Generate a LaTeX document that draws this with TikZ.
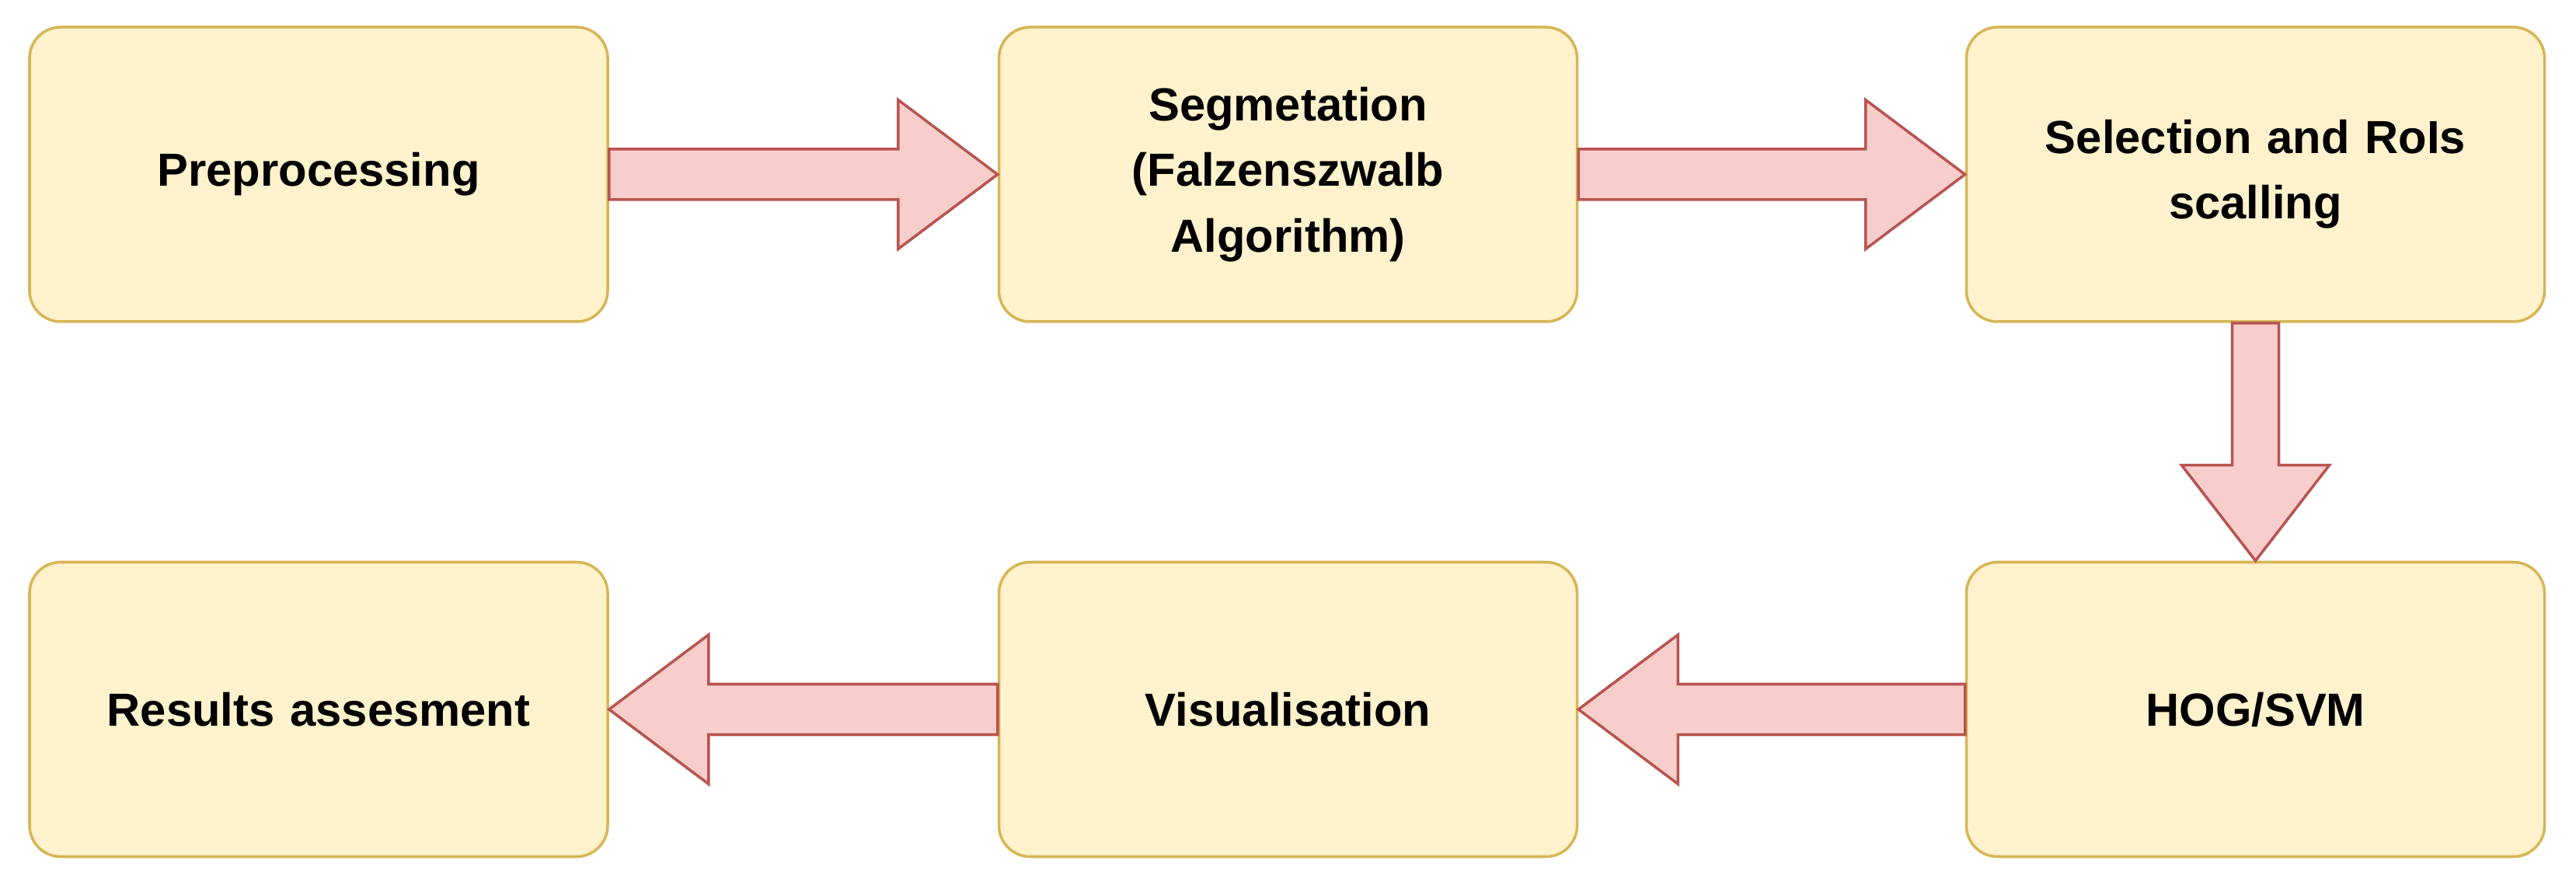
\documentclass[tikz,border=0pt]{standalone}
\usepackage{fontspec}
\setmainfont{Liberation Sans}
\usetikzlibrary{calc}
\definecolor{boxfill}{HTML}{FFF2CC}
\definecolor{boxdraw}{HTML}{D6B656}
\definecolor{arrfill}{HTML}{F8CECC}
\definecolor{arrdraw}{HTML}{B85450}
\tikzset{
  box/.style={draw=boxdraw, fill=boxfill, line width=1pt, rounded corners=0.4cm,
    minimum width=7.44cm, minimum height=3.79cm, align=center, text width=7cm,
    font=\fontsize{17}{24}\selectfont\bfseries},
  barrow/.style={draw=arrdraw, fill=arrfill, line width=1pt, line join=miter}
}
\begin{document}
\begin{tikzpicture}
\useasboundingbox (0,0) rectangle (33.15,11.29);
\node[box] (pre) at (4.10,9.045) {Preprocessing};
\node[box] (seg) at (16.575,9.045) {Segmetation\\(Falzenszwalb\\Algorithm)};
\node[box] (sel) at (29.025,9.045) {Selection and RoIs\\scalling};
\node[box] (hog) at (29.025,2.16) {HOG/SVM};
\node[box] (vis) at (16.575,2.16) {Visualisation};
\node[box] (res) at (4.10,2.16) {Results assesment};
% right arrows
\foreach \a/\b in {pre/seg, seg/sel}{
\draw[barrow] ($(\a.east)+(0,0.325)$) -- ($(\b.west)+(-1.28,0.325)$) -- ($(\b.west)+(-1.28,0.96)$) -- (\b.west) -- ($(\b.west)+(-1.28,-0.96)$) -- ($(\b.west)+(-1.28,-0.325)$) -- ($(\a.east)+(0,-0.325)$) -- cycle;
}
% left arrows
\foreach \a/\b in {hog/vis, vis/res}{
\draw[barrow] ($(\a.west)+(0,0.325)$) -- ($(\b.east)+(1.28,0.325)$) -- ($(\b.east)+(1.28,0.96)$) -- (\b.east) -- ($(\b.east)+(1.28,-0.96)$) -- ($(\b.east)+(1.28,-0.325)$) -- ($(\a.west)+(0,-0.325)$) -- cycle;
}
% down arrow
\draw[barrow] ($(sel.south)+(-0.30,0)$) -- ($(hog.north)+(-0.30,1.23)$) -- ($(hog.north)+(-0.95,1.23)$) -- (hog.north) -- ($(hog.north)+(0.95,1.23)$) -- ($(hog.north)+(0.30,1.23)$) -- ($(sel.south)+(0.30,0)$) -- cycle;
\end{tikzpicture}
\end{document}
